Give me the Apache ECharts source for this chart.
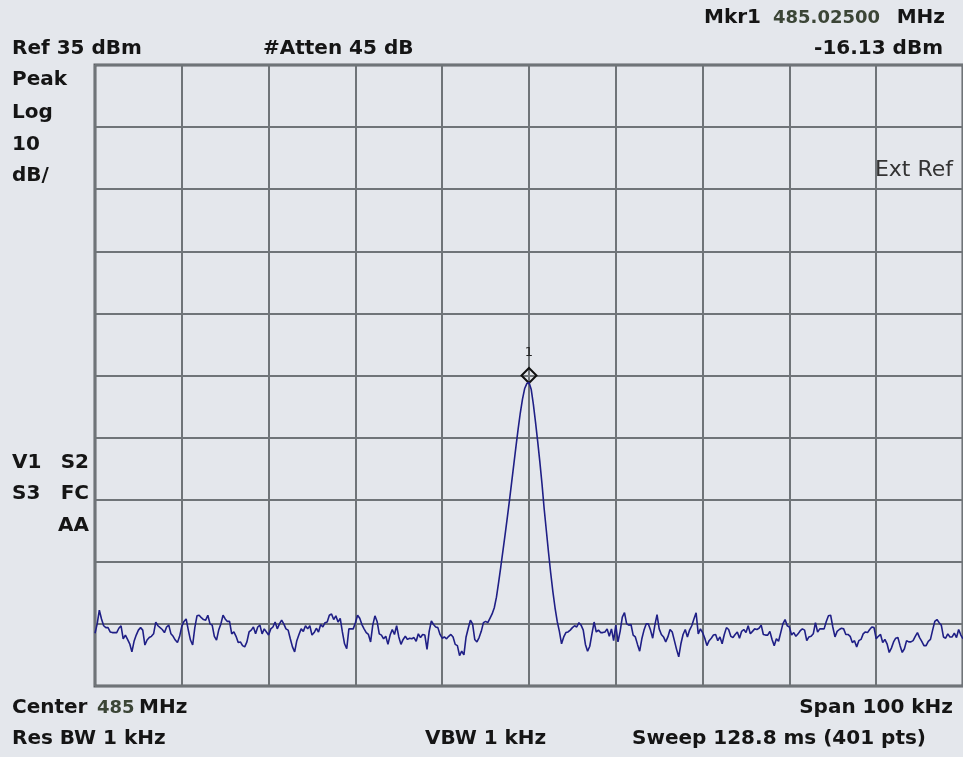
<!DOCTYPE html>
<html><head><meta charset="utf-8">
<script src="https://cdn.jsdelivr.net/npm/echarts@6/dist/echarts.min.js"></script>
<style>html,body{margin:0;padding:0;background:#e4e7ec}#c{width:963px;height:757px}</style>
</head><body><div id="c"></div>
<script>
// Sweep definition
const centerMHz = 485;
const spanKHz = 100;
const sweepPoints = 401;
const refLevel = 35;     // dBm, top of screen
const dbPerDiv = 10;
const divisions = 10;
const markerFreqOffsetKHz = 0;
const markerLevel = -16.13;

// Trace levels (dBm), points 0..400
const trace0 = [
-56.5,-55.0,-52.8,-54.2,-55.3,-55.6,-55.6,-56.3,-56.4,-56.4,
-56.4,-55.7,-55.3,-57.4,-56.8,-57.5,-58.2,-59.5,-57.8,-56.8,
-56.0,-55.6,-56.0,-58.4,-57.6,-57.2,-57.0,-56.6,-54.7,-55.3,
-55.6,-55.9,-56.4,-55.5,-55.2,-56.6,-57.0,-57.6,-58.0,-57.0,
-55.4,-54.6,-54.2,-56.0,-57.6,-58.4,-55.6,-53.7,-53.6,-54.0,
-54.3,-54.4,-53.6,-55.0,-55.2,-57.0,-57.6,-56.0,-55.0,-53.6,
-54.2,-54.6,-54.6,-56.6,-56.3,-57.0,-58.0,-57.9,-58.5,-58.7,
-57.9,-56.3,-56.0,-55.5,-56.6,-55.5,-55.2,-56.6,-55.8,-56.3,
-56.8,-55.8,-55.5,-54.7,-55.8,-55.0,-54.4,-55.0,-55.8,-56.0,
-57.4,-58.7,-59.5,-57.7,-56.7,-55.8,-56.2,-55.3,-55.8,-55.3];
const trace1 = [
-56.8,-56.4,-55.7,-56.3,-55.1,-55.5,-54.8,-54.7,-53.6,-53.4,
-54.3,-53.7,-54.7,-54.1,-56.3,-58.2,-59.0,-55.8,-55.8,-55.8,
-54.8,-53.6,-54.1,-55.1,-55.8,-56.4,-56.7,-57.9,-55.2,-53.7,
-54.6,-56.6,-56.8,-57.4,-57.0,-58.3,-56.8,-55.9,-56.7,-55.3,
-57.1,-58.3,-57.5,-57.0,-57.5,-57.3,-57.4,-57.2,-57.8,-56.6,
-57.2,-56.7,-56.8,-59.1,-56.2,-54.5,-55.1,-55.5,-55.6,-56.7,
-57.3,-57.1,-57.4,-57.0,-56.7,-57.1,-58.3,-58.5,-60.1,-59.4,
-60.0,-57.1,-55.7,-54.4,-55.0,-57.5,-57.9,-57.2,-56.2,-54.8,
-54.6,-54.8,-54.1,-53.4,-52.4,-50.7,-48.3,-45.8,-43.2,-40.6,
-37.9,-35.1,-32.2,-29.3,-26.4,-23.6,-21.0,-18.8,-17.1,-16.3];
const trace2 = [
-16.13,-17.2,-19.6,-22.5,-25.6,-28.9,-32.5,-36.5,-40.0,-43.5,
-46.8,-49.8,-52.4,-54.6,-56.2,-58.2,-57.1,-56.4,-56.3,-56.0,
-55.6,-55.3,-55.5,-54.8,-55.2,-56.0,-58.3,-59.4,-58.6,-56.6,
-54.7,-56.3,-56.0,-56.4,-56.4,-56.3,-55.8,-57.0,-55.8,-57.7,
-55.2,-57.9,-56.2,-53.9,-53.2,-55.0,-55.2,-55.1,-56.8,-57.1,
-58.3,-59.4,-57.4,-56.0,-55.0,-55.0,-56.0,-57.3,-55.2,-53.5,
-55.8,-56.7,-57.1,-57.9,-57.1,-55.9,-56.3,-57.7,-59.1,-60.3,
-58.2,-56.7,-55.9,-57.1,-56.0,-55.3,-54.2,-53.2,-56.6,-55.8,
-56.4,-57.3,-58.5,-57.7,-57.3,-56.8,-56.7,-57.7,-57.1,-58.2,
-56.7,-55.6,-55.9,-57.0,-57.2,-56.7,-56.3,-57.3,-56.2,-55.9];
const trace3 = [
-56.4,-55.3,-56.6,-56.2,-55.8,-55.9,-55.7,-55.2,-56.7,-56.8,
-56.8,-56.2,-57.5,-58.5,-57.4,-57.8,-56.4,-55.0,-54.3,-55.3,
-55.5,-56.8,-56.4,-57.0,-56.6,-56.1,-55.8,-56.0,-57.7,-57.1,
-57.0,-56.6,-54.8,-56.3,-55.8,-55.8,-55.8,-54.6,-53.7,-53.6,
-55.5,-57.1,-56.2,-55.9,-55.7,-55.8,-56.7,-56.7,-57.0,-58.0,
-57.7,-58.7,-57.7,-57.5,-56.6,-56.3,-56.4,-55.9,-55.5,-55.6,
-57.4,-57.0,-56.7,-58.0,-57.5,-58.2,-59.6,-58.9,-57.9,-57.3,
-57.2,-58.5,-59.6,-59.0,-57.7,-57.9,-57.9,-57.7,-57.0,-56.4,
-57.2,-57.8,-58.5,-58.5,-57.8,-57.5,-56.0,-54.6,-54.3,-54.8,
-55.2,-57.1,-57.3,-56.6,-57.1,-57.1,-56.5,-57.2,-55.9,-56.8,
-57.4];

// Screen annotation texts
const topTexts = ["Ref 35 dBm", "#Atten 45 dB"];
const markerTexts = ["Mkr1", "485.02500", "MHz", "-16.13 dBm"];
const leftTexts = ["Peak", "Log", "10", "dB/"];
const statusTexts = ["V1", "S2", "S3", "FC", "AA"];
const bottomTexts = ["Center", "485", "MHz", "Res BW 1 kHz", "VBW 1 kHz", "Span 100 kHz", "Sweep 128.8 ms (401 pts)"];
const extRefText = "Ext Ref";

const levels = trace0.concat(trace1, trace2, trace3);
const stepKHz = spanKHz / (sweepPoints - 1);
const traceData = levels.map((v, i) => [-spanKHz / 2 + i * stepKHz, v]);

const chart = echarts.init(document.getElementById('c'), null, {renderer: 'canvas'});
const B = 'bold 20px "DejaVu Sans"';
const BN = 'bold 18px "DejaVu Sans"';
const ink = '#151515';
const numInk = '#3b4536';
function t(text, x, y, align, font, fill) {
  return {type: 'text', x: x, y: y, z: 10, style: {text: text, font: font || B, fill: fill || ink, align: align || 'left', verticalAlign: 'middle'}};
}
const gridLineColor = '#6f7478';
const option = {
  backgroundColor: '#e4e7ec',
  animation: false,
  grid: {left: 95, top: 65, right: -9, bottom: 71, show: true, borderColor: '#5c6165', borderWidth: 3, backgroundColor: 'transparent'},
  xAxis: {type: 'value', min: -spanKHz / 2, max: spanKHz / 2, interval: spanKHz / divisions,
    axisLine: {show: false}, axisTick: {show: false}, axisLabel: {show: false},
    splitLine: {show: true, lineStyle: {color: gridLineColor, width: 2}}},
  yAxis: [
    {type: 'value', min: refLevel - dbPerDiv * divisions, max: refLevel, show: false, splitLine: {show: false}},
    {type: 'value', min: 0, max: divisions * dbPerDiv, interval: dbPerDiv,
      axisLine: {show: false}, axisTick: {show: false}, axisLabel: {show: false},
      splitLine: {show: true, lineStyle: {color: gridLineColor, width: 2}}}
  ],
  series: [{
    type: 'line', yAxisIndex: 0, data: traceData, showSymbol: false, symbol: 'none', smooth: false,
    lineStyle: {color: '#1f1f86', width: 1.6}, z: 5,
    markPoint: {
      symbol: 'diamond', symbolSize: [15, 15], symbolOffset: [0, -7],
      itemStyle: {color: 'rgba(0,0,0,0)', borderColor: '#111', borderWidth: 2},
      label: {show: true, formatter: '1', position: 'top', distance: 8, color: '#222', fontSize: 13, fontFamily: 'DejaVu Sans'},
      data: [{coord: [markerFreqOffsetKHz, markerLevel]}]
    }
  }],
  graphic: [
    t(topTexts[0], 12, 49), t(topTexts[1], 263, 49),
    t(markerTexts[0], 704, 18), t(markerTexts[1], 773, 18, 'left', BN, numInk), t(markerTexts[2], 945, 18, 'right'),
    t(markerTexts[3], 943, 49, 'right'),
    t(leftTexts[0], 12, 80), t(leftTexts[1], 12, 113), t(leftTexts[2], 12, 145), t(leftTexts[3], 12, 176),
    t(statusTexts[0], 12, 463), t(statusTexts[1], 89, 463, 'right'),
    t(statusTexts[2], 12, 494), t(statusTexts[3], 89, 494, 'right'),
    t(statusTexts[4], 89, 526, 'right'),
    t(extRefText, 953, 170, 'right', '22px "DejaVu Sans"', '#333'),
    t(bottomTexts[0], 12, 708), t(bottomTexts[1], 97, 708, 'left', BN, numInk), t(bottomTexts[2], 139, 708),
    t(bottomTexts[3], 12, 739), t(bottomTexts[4], 425, 739),
    t(bottomTexts[5], 953, 708, 'right'), t(bottomTexts[6], 632, 739)
  ]
};
chart.setOption(option);
</script></body></html>
